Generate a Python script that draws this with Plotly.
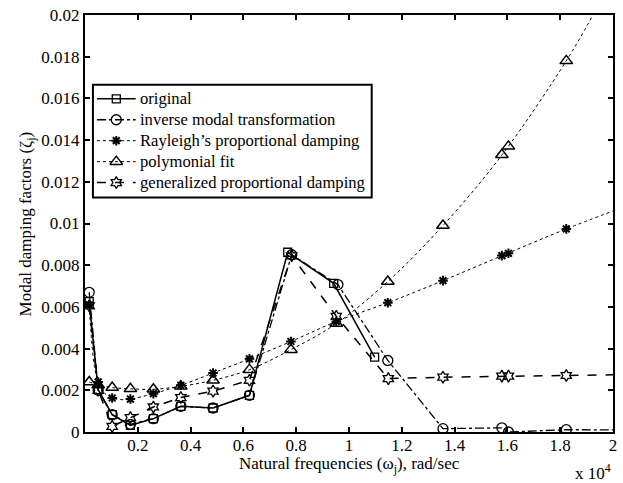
import numpy as np
import plotly.graph_objects as go

# ---- data (frequency in units of 1e4 rad/s, damping in units of 1e-3) ----
w_orig = [0.016, 0.050, 0.103, 0.172, 0.259, 0.363, 0.485, 0.623, 0.768, 0.942, 1.097]
z_orig = [6.25, 2.03, 0.83, 0.32, 0.64, 1.23, 1.15, 1.76, 8.62, 7.13, 3.59]

w_imt = [0.016, 0.050, 0.103, 0.172, 0.259, 0.363, 0.485, 0.623, 0.783, 0.958, 1.147, 1.356, 1.579, 1.604, 1.823, 2.100]
z_imt = [6.70, 2.00, 0.83, 0.37, 0.64, 1.23, 1.15, 1.76, 8.50, 7.07, 3.43, 0.16, 0.20, 0.00, 0.11, 0.10]

w_id = [0.016, 0.050, 0.103, 0.172, 0.259, 0.363, 0.485, 0.623, 0.780, 0.952, 1.147, 1.356, 1.579, 1.604, 1.823]
z_rayl = [6.10, 2.40, 1.63, 1.58, 1.84, 2.24, 2.83, 3.51, 4.34, 5.30, 6.20, 7.26, 8.46, 8.57, 9.74]
z_poly = [2.40, 2.25, 2.13, 2.07, 2.05, 2.19, 2.48, 2.99, 3.95, 5.20, 7.22, 9.90, 13.30, 13.70, 17.80]

# fitted curves
w_rayl_curve = [0.016, 0.025, 0.035, 0.050, 0.075, 0.103, 0.140, 0.172, 0.259, 0.363, 0.485, 0.623, 0.780, 0.952, 1.147, 1.356, 1.580, 1.823, 2.000]
z_rayl_curve = [6.10, 4.40, 3.20, 2.40, 1.85, 1.63, 1.55, 1.58, 1.84, 2.24, 2.83, 3.51, 4.34, 5.30, 6.20, 7.26, 8.46, 9.74, 10.60]
w_poly_curve = [0.016, 0.050, 0.103, 0.172, 0.259, 0.363, 0.485, 0.623, 0.780, 0.952, 1.147, 1.356, 1.580, 1.823, 1.924]
z_poly_curve = [2.40, 2.25, 2.13, 2.07, 2.05, 2.19, 2.48, 2.99, 3.95, 5.20, 7.22, 9.90, 13.30, 17.80, 20.00]

w_gen = [0.016, 0.050, 0.103, 0.172, 0.259, 0.363, 0.485, 0.623, 0.783, 0.952, 1.149, 1.356, 1.579, 1.604, 1.823, 2.100]
z_gen = [6.05, 2.00, 0.27, 0.69, 1.20, 1.65, 1.96, 2.48, 8.45, 5.55, 2.56, 2.63, 2.68, 2.68, 2.71, 2.76]

series_names = ["original", "inverse modal transformation", "Rayleigh\u2019s proportional damping",
                "polymonial fit", "generalized proportional damping"]

x_ticks = [0.2, 0.4, 0.6, 0.8, 1.0, 1.2, 1.4, 1.6, 1.8, 2.0]
x_tick_labels = ["0.2", "0.4", "0.6", "0.8", "1", "1.2", "1.4", "1.6", "1.8", "2"]
y_ticks = [0, 2, 4, 6, 8, 10, 12, 14, 16, 18, 20]
y_tick_labels = ["0", "0.002", "0.004", "0.006", "0.008", "0.01", "0.012", "0.014", "0.016", "0.018", "0.02"]

WS = 1e4
ZS = 1e-3
def X(a): return np.array(a) * WS
def Y(a): return np.array(a) * ZS

FONT = "Liberation Serif, Times New Roman, Times, serif"
FS = 17
FS_LEG = 16.6
K = "black"

styles = [
    dict(line=dict(color=K, width=1.5, dash="solid"),
         marker=dict(symbol="square-open", size=8, color=K, line=dict(width=1.3, color=K))),
    dict(line=dict(color=K, width=1.3, dash="dashdot"),
         marker=dict(symbol="circle-open", size=10, color=K, line=dict(width=1.3, color=K))),
    dict(line=dict(color=K, width=1, dash="dot"),
         marker=dict(symbol="asterisk-open", size=8, color=K, line=dict(width=2, color=K))),
    dict(line=dict(color=K, width=1, dash="dot"),
         marker=dict(symbol="triangle-up-open", size=11, color=K, line=dict(width=1.5, color=K))),
    dict(line=dict(color=K, width=1.5, dash="dash"),
         marker=dict(symbol="hexagram-open", size=9, color=K, line=dict(width=1.3, color=K))),
]

fig = go.Figure()

fig.add_trace(go.Scatter(x=X(w_orig), y=Y(z_orig), mode="lines+markers", name=series_names[0], **styles[0]))
fig.add_trace(go.Scatter(x=X(w_imt), y=Y(z_imt), mode="lines+markers", name=series_names[1], **styles[1]))
fig.add_trace(go.Scatter(x=X(w_rayl_curve), y=Y(z_rayl_curve), mode="lines",
                         line=dict(styles[2]["line"], shape="spline")))
fig.add_trace(go.Scatter(x=X(w_id), y=Y(z_rayl), mode="markers", name=series_names[2], marker=styles[2]["marker"]))
fig.add_trace(go.Scatter(x=X(w_poly_curve), y=Y(z_poly_curve), mode="lines",
                         line=dict(styles[3]["line"], shape="spline")))
fig.add_trace(go.Scatter(x=X(w_id), y=Y(z_poly), mode="markers", name=series_names[3], marker=styles[3]["marker"]))
fig.add_trace(go.Scatter(x=X(w_gen), y=Y(z_gen), mode="lines+markers", name=series_names[4], **styles[4]))

# ---- hand-built legend (overlay axes in plot-area fractions) ----
leg_x0, leg_x1 = 0.015, 0.543
leg_y0, leg_y1 = 0.5622, 0.8325
row_y = [0.799, 0.7488, 0.6986, 0.6483, 0.5981]
samp_x0, samp_x1, text_x = 0.0226, 0.0959, 0.0995
annotations = []
for i, name in enumerate(series_names):
    fig.add_trace(go.Scatter(x=[samp_x0, samp_x1], y=[row_y[i], row_y[i]], mode="lines",
                             line=styles[i]["line"], xaxis="x2", yaxis="y2"))
    fig.add_trace(go.Scatter(x=[(samp_x0 + samp_x1) / 2], y=[row_y[i]], mode="markers",
                             marker=styles[i]["marker"], xaxis="x2", yaxis="y2"))
    annotations.append(dict(text=name, xref="paper", yref="paper", x=text_x, y=row_y[i],
                            xanchor="left", yanchor="middle", showarrow=False,
                            font=dict(family=FONT, size=FS_LEG, color=K)))

axis_common = dict(showline=True, linecolor=K, linewidth=2, mirror="ticks", ticks="inside",
                   ticklen=5, tickwidth=1.5, tickcolor=K, showgrid=False, zeroline=False,
                   tickfont=dict(family=FONT, size=FS, color=K))

fig.update_xaxes(range=[0, 2 * WS], tickvals=X(x_ticks), ticktext=x_tick_labels,
                 ticklabelstandoff=-3, **axis_common)
fig.update_yaxes(range=[0, 20 * ZS], tickvals=Y(y_ticks), ticktext=y_tick_labels, **axis_common)

annotations += [
    dict(text="Natural frequencies (\u03c9<sub>j</sub>), rad/sec", xref="paper", yref="paper",
         x=0.5, y=-0.08, xanchor="center", yanchor="middle", showarrow=False,
         font=dict(family=FONT, size=FS, color=K)),
    dict(text="Modal damping factors (\u03b6<sub>j</sub>)", xref="paper", yref="paper",
         x=-0.11, y=0.5, xanchor="center", yanchor="middle", showarrow=False, textangle=-90,
         font=dict(family=FONT, size=FS, color=K)),
    dict(text="x 10<sup>4</sup>", xref="paper", yref="paper",
         x=1.0, y=-0.097, xanchor="right", yanchor="middle", showarrow=False,
         font=dict(family=FONT, size=FS, color=K)),
]

fig.update_layout(
    width=623, height=483,
    margin=dict(l=85, r=6, t=14, b=51),
    paper_bgcolor="white", plot_bgcolor="white",
    font=dict(family=FONT, size=FS, color=K),
    showlegend=False,
    xaxis2=dict(overlaying="x", range=[0, 1], visible=False, fixedrange=True),
    yaxis2=dict(overlaying="y", range=[0, 1], visible=False, fixedrange=True),
    shapes=[dict(type="rect", xref="paper", yref="paper", x0=leg_x0, x1=leg_x1, y0=leg_y0, y1=leg_y1,
                 line=dict(color=K, width=2), fillcolor="rgba(0,0,0,0)", layer="above")],
    annotations=annotations,
)

fig.write_html("out.html")
